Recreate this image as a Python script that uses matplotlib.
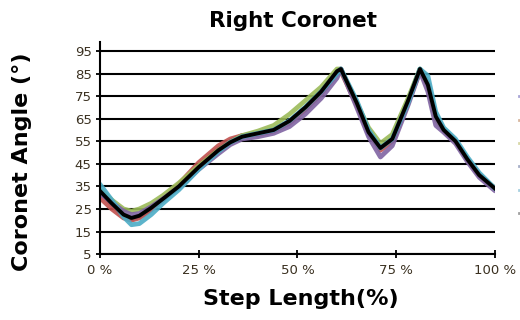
import numpy as np
import matplotlib.pyplot as plt

# step length (%) and coronet angle (deg) per trial
step = [0, 3, 6, 8, 10, 13, 16, 20, 25, 30, 33, 36, 40, 44, 48, 52, 56, 60, 61,
        65, 68, 71, 74, 78, 81, 83, 85, 87, 90, 93, 96, 100]
trial1 = [33, 27, 22, 20.5, 21.5, 25, 29, 35, 44, 51.5, 55, 57.5, 58.5, 60, 64, 70, 77, 86, 87,
          71, 58, 52, 56, 73, 87, 81, 66, 60, 55, 47, 40, 34]
trial2 = [30, 25, 21, 20, 21, 24.5, 29, 36, 45.5, 53, 56, 57.5, 58, 59.5, 63, 69, 76, 85, 86,
          71, 59, 51, 55, 72, 86, 80, 65, 60, 55, 47, 40, 34]
trial3 = [34, 29, 25, 24, 25, 27.5, 31, 36.5, 44, 51, 54.5, 57.5, 59.5, 62, 67, 73, 79, 87, 87,
          72, 61, 54, 58, 74, 87, 80, 65, 60, 55, 47, 40, 34]
trial4 = [32, 28, 24, 22.5, 23, 26, 29.5, 34.5, 42.5, 49.5, 53.5, 56, 57, 58.5, 61.5, 67, 74, 83, 87,
          70, 57, 48, 53, 71, 86, 77, 62, 59, 54, 46, 39, 33]
trial5 = [36, 29, 21.5, 18, 18.5, 22.5, 27.5, 33.5, 42.5, 50.5, 54.5, 57, 58.5, 60, 64, 70, 77, 85, 87,
          73, 60, 52, 56, 72, 87, 84, 68, 61, 56, 48, 41, 34]
mean = [33, 27.5, 22.5, 21, 22, 25.5, 29.5, 35, 43.5, 51, 54.5, 57, 58.5, 60, 64, 70, 77, 86, 87,
        72, 59, 52, 56, 73, 87, 80, 66, 60, 55, 47, 40, 34]

trials = [trial1, trial2, trial3, trial4, trial5]
colors = ['#4F81BD', '#C0504D', '#9BBB59', '#8064A2', '#4BACC6']
legend_colors = ['#a9a6d6', '#d8b8a0', '#d8d8a8', '#a8b0c8', '#a8d0e0', '#a0a0a0']

fig = plt.figure(figsize=(5.2, 3.2), dpi=100)
ax = fig.add_axes([0.192, 0.206, 0.76, 0.663])

for y, c in zip(trials, colors):
    ax.plot(step, y, color=c, lw=3.4, alpha=0.9, solid_capstyle='round')
ax.plot(step, mean, color='black', lw=2.8)

ax.set_xlim(0, 100)
ax.set_ylim(5, 99)
ax.set_yticks(range(5, 96, 10))
ax.set_xticks([0, 25, 50, 75, 100])
ax.set_xticklabels(['0 %', '25 %', '50 %', '75 %', '100 %'])
ax.yaxis.grid(True, color='black', lw=1.5)
ax.set_axisbelow(True)
for s in ['top', 'right']:
    ax.spines[s].set_visible(False)
for s in ['left', 'bottom']:
    ax.spines[s].set_linewidth(1.5)
ax.tick_params(direction='inout', length=6, width=1.3, labelsize=9.5, labelcolor='#3a3020')
ax.tick_params(axis='x', pad=4)
ax.tick_params(axis='y', pad=3)

ax.set_title('Right Coronet', fontsize=15.5, fontweight='bold', x=0.489, y=1.071, pad=0)
ax.set_xlabel('Step Length(%)', fontsize=16, fontweight='bold')
ax.set_ylabel('Coronet Angle (°)', fontsize=16, fontweight='bold')
ax.xaxis.set_label_coords(0.509, -0.165)
ax.yaxis.set_label_coords(-0.172, 0.434)

# legend sits past the right edge; only the handle tips show
handles = [plt.Line2D([], [], color=c, lw=2) for c in legend_colors]
fig.legend(handles, [''] * 6, loc='upper left', bbox_to_anchor=(0.9975, 0.712),
           frameon=False, fontsize=8, labelspacing=1.2, handlelength=2,
           borderpad=0, borderaxespad=0)

fig.savefig('out.png', dpi=100)
